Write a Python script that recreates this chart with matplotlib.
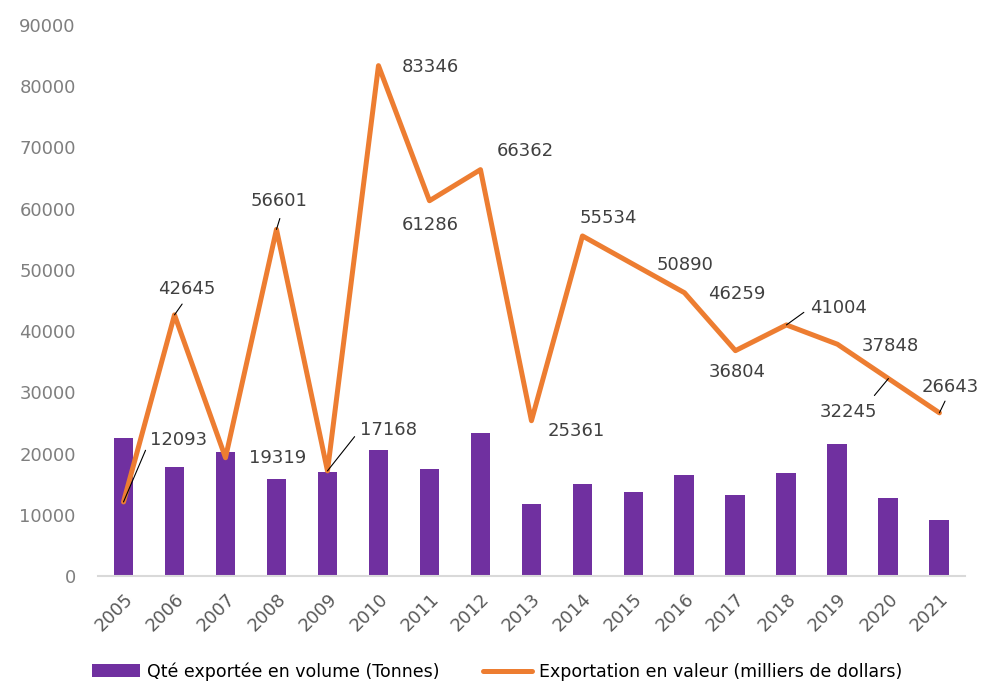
import matplotlib
matplotlib.use('Agg')
import matplotlib.pyplot as plt
import numpy as np

years = ['2005', '2006', '2007', '2008', '2009', '2010', '2011', '2012', '2013',
         '2014', '2015', '2016', '2017', '2018', '2019', '2020', '2021']
volume = [22600, 17800, 20250, 15800, 17050, 20650, 17400, 23300, 11700,
          15100, 13700, 16500, 13300, 16900, 21500, 12800, 9200]
valeur = [12093, 42645, 19319, 56601, 17168, 83346, 61286, 66362, 25361,
          55534, 50890, 46259, 36804, 41004, 37848, 32245, 26643]

# label offsets (pixels from the point) and whether a leader line is drawn
label_offsets = [(55, 62), (12, 26), (52, 0), (3, 28), (61, 41), (52, -1), (1, -24),
                 (45, 19), (45, -10), (26, 18), (52, -1), (52, -1), (2, -21),
                 (52, 17), (53, -2), (-40, -33), (11, 26)]
leaders = [True, True, False, True, True, False, False, False, False,
           False, False, False, False, True, False, True, True]
# where the leader meets the label box
leader_rel = [(0, 0.5), (0.5, 0), (0, 0), (0.55, 0), (0, 0.5), (0, 0), (0, 0),
              (0, 0), (0, 0), (0, 0), (0, 0), (0, 0), (0, 0),
              (0, 0.5), (0, 0), (0.85, 1), (0.45, 0)]
leader_shrink = [3, 3, 0, 4, 3, 0, 0, 0, 0, 0, 0, 0, 0, 3, 0, 4, 2]

purple = '#7030A0'
orange = '#ED7D31'

fig = plt.figure(figsize=(9.84, 6.88), dpi=100)
ax = fig.add_axes([0.0996, 0.1628, 0.881, 0.801])

x = np.arange(len(years))
bars = ax.bar(x, volume, width=0.39, color=purple, label='Qté exportée en volume (Tonnes)', zorder=2)
line, = ax.plot(x, valeur, color=orange, lw=3.6, label='Exportation en valeur (milliers de dollars)',
                zorder=3, solid_capstyle='round')

for i, v in enumerate(valeur):
    dx, dy = label_offsets[i]
    arrow = None
    if leaders[i]:
        arrow = dict(arrowstyle='-', color='black', lw=0.8, shrinkA=leader_shrink[i], shrinkB=0,
                     relpos=leader_rel[i])
    ax.annotate(str(v), (i, v), xytext=(dx, dy), textcoords='offset pixels',
                ha='center', va='center', fontsize=13, color='#404040',
                arrowprops=arrow, zorder=4)

ax.set_xlim(-0.5, len(years) - 0.5)
ax.set_ylim(0, 90000)
ax.set_yticks(range(0, 90001, 10000))
ax.set_xticks(x)
ax.set_xticklabels(years, rotation=45, ha='right', rotation_mode='anchor')
ax.tick_params(axis='y', length=0, pad=16, labelsize=13, labelcolor='#7f7f7f')
ax.tick_params(axis='x', length=0, pad=10, labelsize=13, labelcolor='#595959')
for s in ['top', 'right', 'left']:
    ax.spines[s].set_visible(False)
ax.spines['bottom'].set_color('#d9d9d9')
ax.spines['bottom'].set_linewidth(1.5)

fig.legend([bars, line], [bars.get_label(), line.get_label()],
           loc='lower center', ncol=2, frameon=False, fontsize=12.5,
           bbox_to_anchor=(0.505, -0.012), handlelength=2.8, columnspacing=2.5,
           handletextpad=0.4)

fig.savefig('out.png', dpi=100)
